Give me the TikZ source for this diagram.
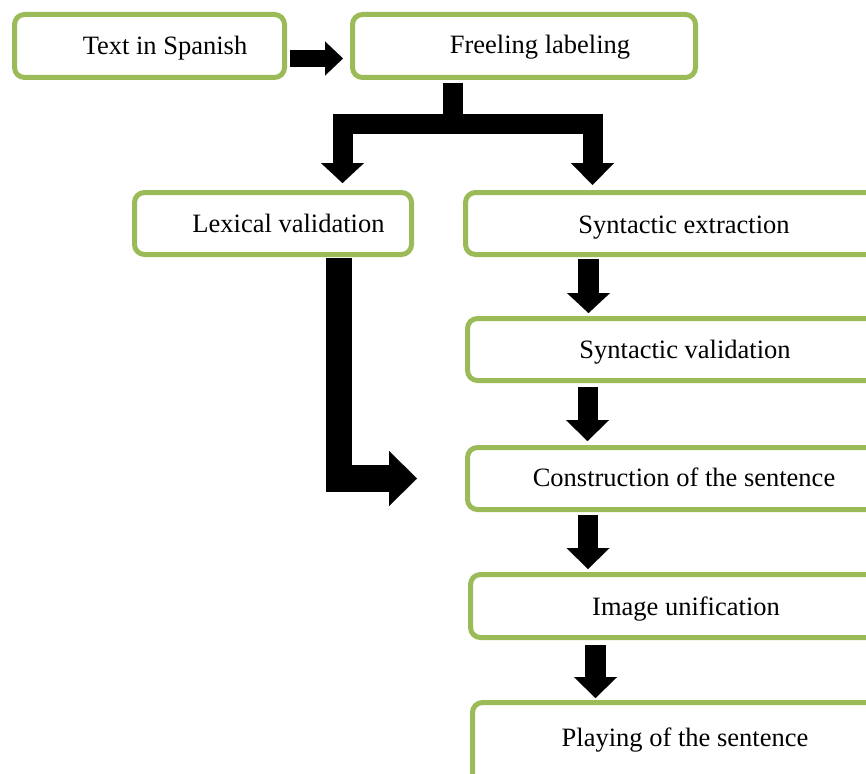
\documentclass[tikz,border=0pt]{standalone}
\usepackage{fontspec}
\setmainfont{Liberation Serif}
\usetikzlibrary{arrows.meta}
\definecolor{boxgreen}{RGB}{155,187,89}
\begin{document}
\begin{tikzpicture}[x=1pt,y=1pt,
  box/.style={draw=boxgreen, line width=5pt, rounded corners=10pt, fill=white, inner sep=0pt},
  txt/.style={font=\fontsize{26.5}{30}\selectfont, inner sep=0pt, text=black, anchor=base},
  blk/.style={line width=#1, draw=black, line join=miter, line cap=butt},
  blockhead/.style 2 args={arrows={-{Triangle[width=#1,length=#2,line width=0.01pt]}}}
]
\useasboundingbox (0,0) rectangle (866,-773);
\clip (0,0) rectangle (866,-773);

% boxes
\node[box, minimum width=270pt, minimum height=63pt] (spanish) at (149.5,-46) {};
\node[box, minimum width=343pt, minimum height=63pt] (freeling) at (524,-46) {};
\node[box, minimum width=277pt, minimum height=62pt] (lexical) at (273,-223.5) {};
\node[box, minimum width=442pt, minimum height=62pt] (synext) at (686.5,-223.5) {};
\node[box, minimum width=440pt, minimum height=62pt] (synval) at (687.5,-349.5) {};
\node[box, minimum width=440pt, minimum height=62pt] (constr) at (687.5,-478.5) {};
\node[box, minimum width=437pt, minimum height=63pt] (image) at (689,-606) {};
\node[box, minimum width=435pt, minimum height=115pt] (playing) at (690,-760) {};

% texts
\node[txt] (spanishT) at (165,-55) {Text in Spanish};
\node[txt] (freelingT) at (540,-54) {Freeling labeling};
\node[txt] (lexicalT) at (288.5,-232) {Lexical validation};
\node[txt] (synextT) at (684,-233) {Syntactic extraction};
\node[txt] (synvalT) at (685,-358) {Syntactic validation};
\node[txt] (constrT) at (684,-486) {Construction of the sentence};
\node[txt] (imageT) at (686,-615) {Image unification};
\node[txt] (playingT) at (685,-746) {Playing of the sentence};

% helper coordinates
\coordinate (fork) at (452.5,-123.5);
\coordinate (cLeft) at (342.5,0);
\coordinate (cRight) at (592.5,0);
\coordinate (cA) at (588.5,0);
\coordinate (cB) at (587.5,0);
\coordinate (cC) at (588,0);
\coordinate (cD) at (595.5,0);
\coordinate (cL) at (339,0);

% arrows
\draw[blk=17pt, blockhead={34pt}{18pt}, shorten <=3pt, shorten >=7pt]
  ([yshift=-12.5pt]spanish.east) -- ([yshift=-12.5pt]freeling.west);

\draw[blk=20pt, blockhead={43pt}{20pt}, shorten <=3pt, shorten >=7pt]
  (freeling.south -| fork) -- (fork) -| (lexical.north -| cLeft);
\draw[blk=20pt, blockhead={43pt}{22pt}, shorten <=3pt, shorten >=5pt]
  (freeling.south -| fork) -- (fork) -| (synext.north -| cRight);

\draw[blk=21pt, blockhead={43pt}{20pt}, shorten <=2pt, shorten >=3pt]
  (synext.south -| cA) -- (synval.north -| cA);
\draw[blk=20pt, blockhead={43pt}{21pt}, shorten <=4pt, shorten >=4pt]
  (synval.south -| cB) -- (constr.north -| cB);
\draw[blk=20pt, blockhead={43pt}{21pt}, shorten <=3pt, shorten >=3pt]
  (constr.south -| cC) -- (image.north -| cC);
\draw[blk=21pt, blockhead={43pt}{21pt}, shorten <=5pt, shorten >=2pt]
  (image.south -| cD) -- (playing.north -| cD);

\draw[blk=26.5pt, blockhead={55pt}{28pt}, shorten <=1pt, shorten >=48pt]
  (lexical.south -| cL) |- (constr.west);
\end{tikzpicture}
\end{document}
